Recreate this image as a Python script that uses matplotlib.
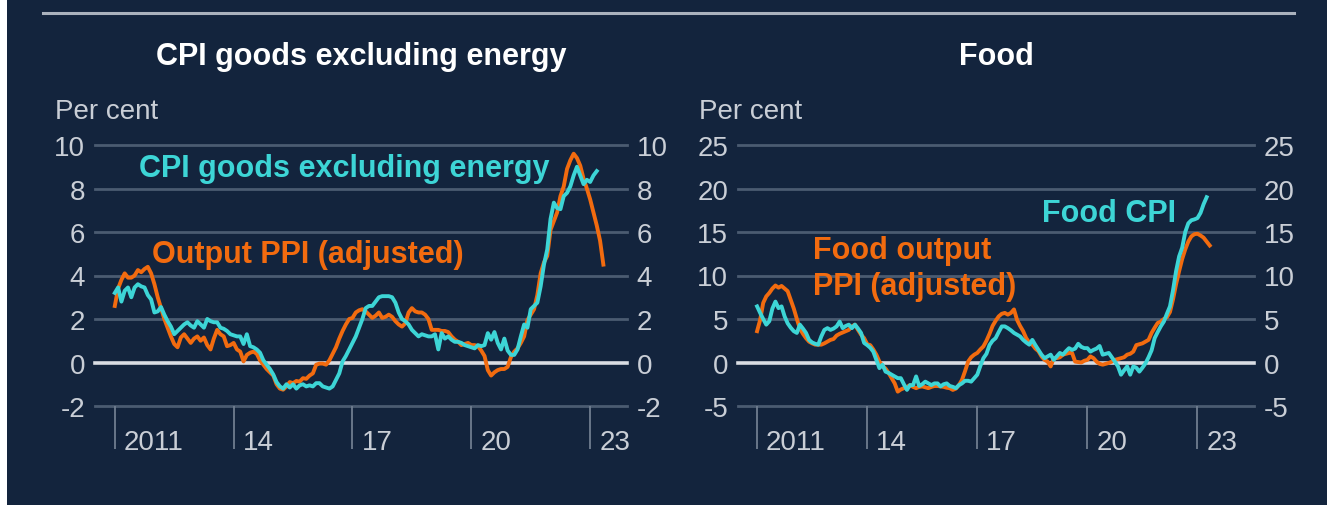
import matplotlib
matplotlib.use('Agg')
import matplotlib.pyplot as plt
import matplotlib.transforms as mtransforms
from matplotlib.lines import Line2D
from matplotlib.patches import Rectangle
import numpy as np

plt.rcParams['font.family'] = ['Liberation Sans', 'DejaVu Sans']
plt.rcParams['axes.unicode_minus'] = False

# monthly data, first value = Jan 2011
goods_ppi = [
    2.6, 3.4, 3.8, 4.1, 3.9, 3.9, 4.0, 4.25, 4.15, 4.3, 4.4, 4.1,
    3.6, 3.0, 2.5, 2.0, 1.6, 1.2, 0.85, 0.7, 1.15, 1.3, 1.1, 0.9,
    1.1, 1.2, 1.0, 1.15, 0.8, 0.6, 1.1, 1.5, 1.3, 1.2, 0.75, 0.8,
    0.9, 0.6, 0.5, 0.05, 0.35, 0.45, 0.5, 0.4, 0.1, -0.1, -0.3, -0.45,
    -0.6, -1.0, -1.2, -1.25, -1.1, -0.9, -0.95, -0.85, -0.88, -0.72, -0.75, -0.6,
    -0.5, -0.1, -0.05, -0.05, -0.1, 0.1, 0.4, 0.7, 1.1, 1.45, 1.75, 2.0,
    2.05, 2.3, 2.4, 2.45, 2.35, 2.2, 2.05, 2.15, 2.3, 2.05, 2.1, 2.2,
    2.1, 1.9, 1.75, 1.65, 1.8, 2.3, 2.5, 2.35, 2.3, 2.3, 2.2, 2.0,
    1.5, 1.5, 1.5, 1.45, 1.45, 1.4, 1.2, 1.05, 0.95, 0.8, 0.85, 0.9,
    0.8, 0.8, 0.75, 0.55, 0.3, -0.35, -0.6, -0.45, -0.35, -0.3, -0.3, -0.2,
    0.25, 0.5, 0.65, 0.9, 1.2, 1.95, 2.2, 2.45, 3.1, 4.1, 4.6, 4.9,
    6.1, 6.5, 6.9, 7.65, 8.1, 8.9, 9.3, 9.6, 9.4, 9.05, 8.45, 8.0,
    7.5, 6.9, 6.3, 5.6, 4.5,
]
goods_cpi = [
    3.2, 3.45, 2.8, 3.3, 3.45, 3.0, 3.45, 3.6, 3.5, 3.45, 3.1, 2.9,
    2.3, 2.35, 2.55, 2.2, 1.9, 1.65, 1.3, 1.45, 1.6, 1.75, 1.85, 1.7,
    1.6, 1.9, 1.75, 1.6, 2.0, 1.9, 1.85, 1.85, 1.6, 1.55, 1.45, 1.3,
    1.25, 1.2, 1.2, 0.85, 1.3, 0.75, 0.7, 0.6, 0.45, 0.1, -0.1, -0.3,
    -0.55, -0.9, -1.1, -1.2, -1.0, -1.15, -1.0, -1.2, -1.05, -1.0, -1.1, -1.05,
    -1.1, -0.95, -0.95, -1.1, -1.15, -1.2, -1.1, -0.8, -0.5, 0.05, 0.3, 0.6,
    0.9, 1.2, 1.6, 2.0, 2.5, 2.6, 2.6, 2.8, 3.0, 3.05, 3.05, 3.05,
    3.0, 2.75, 2.3, 2.0, 1.9, 1.75, 1.5, 1.35, 1.2, 1.3, 1.25, 1.2,
    1.2, 1.3, 0.6, 1.35, 1.1, 1.2, 1.05, 0.95, 0.95, 0.9, 0.8, 0.75,
    0.7, 0.65, 0.8, 0.75, 0.8, 1.35, 1.05, 1.4, 0.9, 0.6, 1.1, 0.55,
    0.35, 0.35, 0.6, 1.2, 1.75, 1.6, 2.45, 2.6, 2.75, 3.5, 4.5, 5.2,
    6.6, 7.35, 7.1, 7.05, 7.65, 7.8, 8.1, 8.6, 9.0, 8.6, 8.2, 8.4,
    8.3, 8.6, 8.8,
]
food_ppi = [
    3.6, 4.9, 6.85, 7.6, 8.0, 8.5, 8.85, 8.6, 8.8, 8.5, 8.2, 7.2,
    6.2, 5.0, 3.9, 3.3, 2.8, 2.4, 2.2, 2.05, 2.05, 2.05, 2.2, 2.4,
    2.6, 2.7, 3.1, 3.3, 3.45, 3.6, 3.75, 4.15, 4.35, 3.75, 3.2, 2.8,
    2.1, 2.0, 1.5, 0.9, 0.1, -0.4, -0.7, -1.2, -1.8, -2.4, -3.35, -3.1,
    -2.95, -2.8, -2.6, -2.8, -2.95, -2.8, -2.75, -2.85, -2.95, -2.8, -2.7, -2.7,
    -2.75, -2.8, -2.9, -2.95, -3.15, -3.0, -2.6, -2.0, -1.0, 0.1, 0.6, 0.9,
    1.1, 1.5, 1.85, 2.5, 3.3, 4.2, 4.8, 5.3, 5.6, 5.7, 5.5, 5.7,
    6.1, 4.9, 4.2, 3.6, 2.8, 2.3, 2.05, 1.6, 1.3, 0.7, 0.3, 0.1,
    -0.45, 0.5, 0.5, 0.6, 0.9, 1.0, 1.1, 1.1, 0.1, 0.05, 0.0, 0.2,
    0.3, 0.7, 0.5, 0.1, -0.15, -0.25, -0.15, -0.05, 0.1, 0.3, 0.4, 0.5,
    0.6, 0.9, 1.0, 1.25, 2.0, 2.1, 2.2, 2.4, 2.6, 3.4, 4.0, 4.55,
    4.7, 5.0, 5.2, 5.8, 7.25, 9.0, 10.5, 11.9, 13.0, 13.9, 14.5, 14.75,
    14.8, 14.6, 14.35, 13.9, 13.45,
]
food_cpi = [
    6.45, 5.7, 5.0, 4.35, 4.75, 6.2, 7.0, 6.25, 6.45, 5.3, 4.5, 4.0,
    3.6, 3.4, 4.35, 3.9, 3.4, 2.6, 2.3, 2.15, 2.05, 3.0, 3.75, 3.95,
    3.75, 3.9, 4.15, 4.7, 3.95, 4.2, 4.35, 3.95, 4.35, 3.9, 3.4, 2.25,
    2.0, 1.7, 1.25, 0.3, -0.65, -0.25, -1.05, -1.2, -1.4, -1.6, -1.8, -1.8,
    -2.5, -3.15, -2.6, -2.6, -1.6, -2.7, -2.5, -2.2, -2.4, -2.6, -2.4, -2.4,
    -2.75, -2.5, -2.4, -2.7, -2.8, -2.95, -2.6, -2.4, -2.1, -2.1, -2.2, -1.8,
    -1.4, -0.4, 0.5, 1.0, 2.0, 2.5, 2.8, 3.5, 4.15, 4.15, 3.95, 3.7,
    3.4, 3.2, 3.0, 2.6, 2.3, 2.05, 2.6, 2.0, 1.45, 0.9, 0.5, 0.7,
    0.9, 0.3, 0.7, 1.1, 0.9, 1.3, 1.65, 1.45, 1.6, 2.15, 1.8, 1.65,
    1.65, 1.25, 1.45, 1.6, 1.9, 0.9, 1.0, 1.1, 0.6, 0.1, -0.45, -1.4,
    -0.9, -0.45, -1.4, -0.45, -0.6, -1.05, -0.6, -0.1, 0.6, 1.4, 2.8, 3.5,
    4.15, 4.7, 5.6, 6.45, 8.3, 10.5, 12.2, 13.2, 15.0, 16.0, 16.35, 16.45,
    16.6, 17.2, 18.2, 19.0,
]

year_ticks = [2011, 2014, 2017, 2020, 2023]
year_labels = ['2011', '14', '17', '20', '23']
goods_yticks = [-2, 0, 2, 4, 6, 8, 10]
food_yticks = [-5, 0, 5, 10, 15, 20, 25]

BG = '#13243d'
GRID = '#4b5b71'
ZERO = '#d9dde3'
TXT = '#c9ced6'
TICK = '#6f7d90'
RULE = '#aab2bd'
CYAN = '#3dd5d6'
ORANGE = '#f26b0f'
LW = 2.8

W, H = 1327, 506


def fx(px):
    return px / W


def fy(py):
    return 1 - py / H


def months_to_years(vals):
    return 2011 + np.arange(len(vals)) / 12


fig = plt.figure(figsize=(13.27, 5.06), dpi=100, facecolor=BG)


# sets up one panel: grid, zero line, ticks on both sides, long year ticks
def make_panel(left_px, right_px, xlim, yticks):
    ax = fig.add_axes([fx(left_px), fy(407), (right_px - left_px) / W, (407 - 146) / H])
    ax.set_facecolor(BG)
    ax.set_xlim(*xlim)
    ax.set_ylim(yticks[0], yticks[-1])
    for s in ax.spines.values():
        s.set_visible(False)
    for t in yticks:
        if t == 0:
            ax.axhline(t, color=ZERO, lw=2.6, zorder=1.5, clip_on=False)
        else:
            ax.axhline(t, color=GRID, lw=2, zorder=1, clip_on=False)
    ax.set_yticks(yticks)
    ax.set_yticklabels([str(t) for t in yticks])
    ax.tick_params(axis='y', length=0, pad=7, labelsize=20, labelcolor=TXT,
                   labelleft=True, labelright=True)
    ax.set_xticks(year_ticks)
    ax.tick_params(axis='x', length=31, width=1.3, color=TICK, direction='out',
                   labelbottom=False)
    tr = mtransforms.offset_copy(ax.get_xaxis_transform(), fig=fig, x=9, y=-43, units='dots')
    for yr, lab in zip(year_ticks, year_labels):
        ax.text(yr, 0, lab, transform=tr, ha='left', va='baseline', fontsize=20, color=TXT)
    return ax


ax1 = make_panel(95, 627, (2010.5, 2023.93), goods_yticks)
ax1.plot(months_to_years(goods_ppi), goods_ppi, color=ORANGE, lw=LW, zorder=3)
ax1.plot(months_to_years(goods_cpi), goods_cpi, color=CYAN, lw=LW, zorder=4)
ax1.text(2011.61, 8.58, 'CPI goods excluding energy', color=CYAN, fontsize=22,
         fontweight='bold', ha='left', va='baseline')
ax1.text(2011.93, 4.6, 'Output PPI (adjusted)', color=ORANGE, fontsize=22,
         fontweight='bold', ha='left', va='baseline')

ax2 = make_panel(738, 1254, (2010.48, 2024.54), food_yticks)
ax2.plot(months_to_years(food_ppi), food_ppi, color=ORANGE, lw=LW, zorder=3)
ax2.plot(months_to_years(food_cpi), food_cpi, color=CYAN, lw=LW, zorder=4)
ax2.text(2012.53, 11.98, 'Food output', color=ORANGE, fontsize=22,
         fontweight='bold', ha='left', va='baseline')
ax2.text(2012.53, 7.83, 'PPI (adjusted)', color=ORANGE, fontsize=22,
         fontweight='bold', ha='left', va='baseline')
ax2.text(2018.76, 16.27, 'Food CPI', color=CYAN, fontsize=22,
         fontweight='bold', ha='left', va='baseline')

# titles and units
fig.text(fx(361), fy(65), 'CPI goods excluding energy', ha='center', va='baseline',
         fontsize=22, fontweight='bold', color='white')
fig.text(fx(996), fy(65), 'Food', ha='center', va='baseline',
         fontsize=22, fontweight='bold', color='white')
fig.text(fx(55), fy(119.5), 'Per cent', ha='left', va='baseline', fontsize=20, color=TXT)
fig.text(fx(699), fy(119.5), 'Per cent', ha='left', va='baseline', fontsize=20, color=TXT)

# top rule and white strip on the left edge
fig.add_artist(Line2D([fx(43), fx(1294)], [fy(13.7), fy(13.7)], transform=fig.transFigure,
                      color=RULE, lw=2.2))
fig.add_artist(Rectangle((0, 0), fx(7), 1, transform=fig.transFigure, color='white', lw=0))

fig.savefig('out.png', dpi=100, facecolor=BG)
